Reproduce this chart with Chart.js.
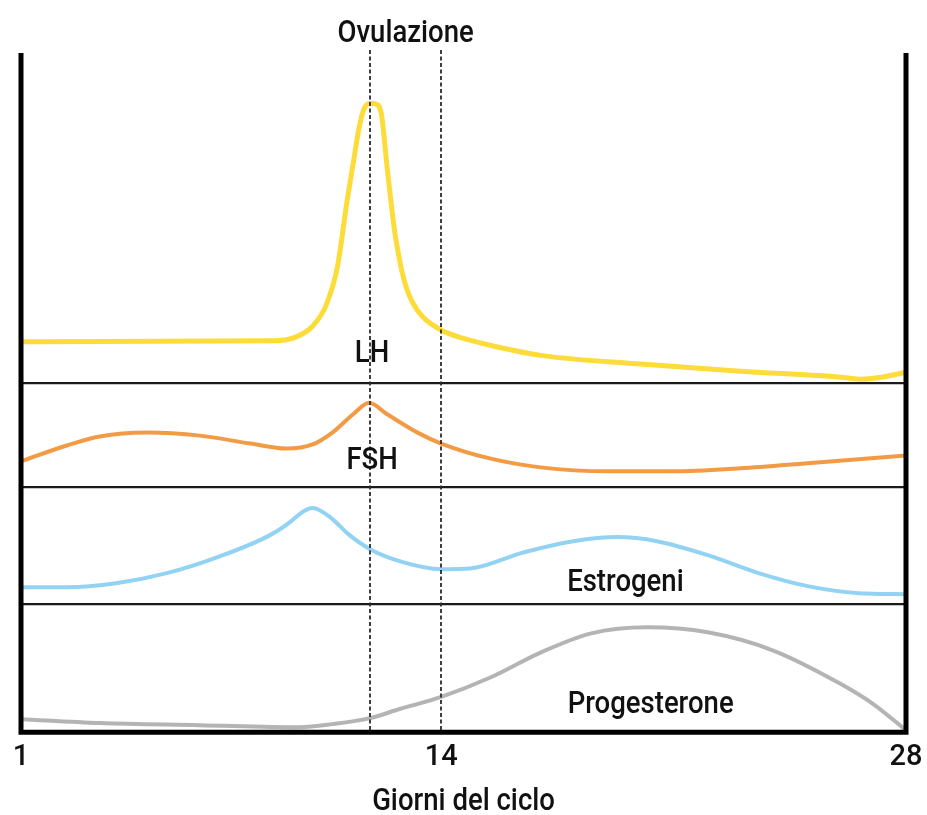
<!DOCTYPE html>
<html>
<head>
<meta charset="utf-8">
<script src="https://cdn.jsdelivr.net/npm/chart.js@4.4.0/dist/chart.umd.min.js"></script>
<style>
  html, body { margin: 0; padding: 0; background: #fff; }
</style>
</head>
<body>
<canvas id="myChart" width="927" height="815"></canvas>
<script>
// giorni del ciclo + livello relativo (0-100) di ogni ormone nel suo pannello
const lhDays   = [1, 8.7, 9.4, 9.9, 10.3, 10.65, 10.95, 11.15, 11.3, 11.45, 11.65, 11.85, 12.0, 12.17, 12.4, 12.5, 12.62, 12.78, 12.96, 13.26, 13.81, 14.48, 15.25, 16.85, 19.9, 22.95, 26.0, 26.6, 27.25, 28];
const lhLevels = [12.5, 12.8, 14.0, 17.3, 23.4, 35.0, 55.3, 67.5, 76.6, 82.7, 84.8, 84.5, 81.2, 65.3, 46.0, 40.0, 33.9, 28.2, 24.2, 20.0, 16.1, 13.6, 11.6, 8.4, 5.8, 3.6, 1.8, 1.2, 1.8, 3.3];

const fshDays   = [1, 2.4, 3.4, 4.85, 6.45, 8.0, 9.1, 9.9, 10.5, 11.15, 11.62, 12.15, 13.1, 13.82, 15.3, 16.85, 18.9, 20.9, 22.95, 25.0, 26.55, 28];
const fshLevels = [24.8, 40.0, 48.6, 52.4, 49.5, 41.9, 37.1, 41.0, 52.4, 70.5, 81.0, 70.5, 52.4, 41.9, 27.6, 19.0, 15.2, 15.2, 18.1, 22.9, 26.7, 30.5];

const estDays   = [1, 2.4, 3.9, 5.45, 7.0, 8.6, 9.21, 9.5, 9.7, 9.88, 10.06, 10.21, 10.43, 10.64, 10.95, 11.65, 12.65, 13.81, 14.7, 16.35, 17.85, 19.2, 20.4, 21.95, 23.5, 25.0, 26.55, 28];
const estLevels = [14.5, 14.5, 17.9, 26.5, 40.2, 59.0, 70.1, 77.0, 80.6, 82.1, 81.0, 78.6, 74.4, 69.2, 60.7, 47.0, 35.9, 29.9, 30.5, 44.4, 53.8, 57.3, 53.8, 41.9, 26.5, 15.4, 9.4, 8.5];

const proDays   = [1, 3.4, 6.45, 9.5, 10.5, 11.65, 12.55, 13.82, 15.3, 16.85, 18.4, 20.1, 21.95, 23.95, 26.0, 27.0, 28];
const proLevels = [10.2, 7.1, 5.5, 3.9, 6.3, 11.0, 18.1, 27.6, 42.5, 62.2, 77.2, 81.9, 78.0, 63.8, 37.8, 22.0, 1.5];

const tickDays = [1, 13.82, 28];
const tickLabels = ['1', '14', '28'];
const dashedDays = [11.65, 13.82];
const axisTitle = 'Giorni del ciclo';

const panelLabels = ['LH', 'FSH', 'Estrogeni', 'Progesterone'];
const labelDays   = [11.71, 11.71, 19.44, 20.21];
const labelLevels = [6.5, 17.1, 11.1, 15.0];
const labelAxes   = ['yL', 'yF', 'yE', 'yP'];

const family = "'Liberation Sans Narrow', Roboto, sans-serif";
Chart.defaults.font.family = family;
Chart.defaults.color = '#111';

function pts(days, levels) {
  return days.map((d, i) => ({ x: d, y: levels[i] }));
}

function line(data, color, width, axis) {
  return {
    data: data,
    yAxisID: axis,
    borderColor: color,
    borderWidth: width,
    pointRadius: 0,
    fill: false,
    cubicInterpolationMode: 'monotone'
  };
}

function panelAxis(weight, order) {
  return {
    type: 'linear',
    position: 'left',
    stack: 'ormoni',
    stackWeight: weight,
    weight: order,
    min: 0,
    max: 100,
    ticks: { display: false },
    grid: { display: false, drawTicks: false },
    border: { display: false }
  };
}

// testo "stretto" per imitare il carattere condensato dell'originale
function narrowText(ctx, t, x, y) {
  ctx.save();
  ctx.translate(x, y);
  ctx.scale(0.86, 1);
  ctx.fillText(t, 0, 0);
  ctx.restore();
}

const hormoneFrame = {
  id: 'hormoneFrame',
  afterDatasetsDraw(chart) {
    const { ctx, chartArea: a, scales } = chart;
    const x = scales.x;
    ctx.save();

    // separatori tra i pannelli
    ctx.strokeStyle = '#1a1a1a';
    ctx.lineWidth = 2.2;
    ['yF', 'yE', 'yP'].forEach(id => {
      const top = scales[id].top;
      ctx.beginPath();
      ctx.moveTo(a.left, top);
      ctx.lineTo(a.right, top);
      ctx.stroke();
    });

    // linee tratteggiate
    ctx.setLineDash([4, 2.5]);
    ctx.lineWidth = 1.8;
    ctx.strokeStyle = '#2a2a2a';
    dashedDays.forEach(d => {
      const px = Math.round(x.getPixelForValue(d));
      ctx.beginPath();
      ctx.moveTo(px, a.top - 3);
      ctx.lineTo(px, a.bottom);
      ctx.stroke();
    });
    ctx.setLineDash([]);

    // cornice
    ctx.lineWidth = 5;
    ctx.strokeStyle = '#000';
    ctx.beginPath();
    ctx.moveTo(a.left, a.top);
    ctx.lineTo(a.left, a.bottom);
    ctx.lineTo(a.right, a.bottom);
    ctx.lineTo(a.right, a.top);
    ctx.stroke();

    // testi
    ctx.fillStyle = '#111';
    ctx.font = '500 32px ' + family;
    ctx.textAlign = 'center';
    ctx.textBaseline = 'alphabetic';
    panelLabels.forEach((t, i) => {
      narrowText(ctx, t, x.getPixelForValue(labelDays[i]), scales[labelAxes[i]].getPixelForValue(labelLevels[i]));
    });
    const mid = (x.getPixelForValue(dashedDays[0]) + x.getPixelForValue(dashedDays[1])) / 2;
    narrowText(ctx, 'Ovulazione', mid, a.top - 11);
    narrowText(ctx, axisTitle, (a.left + a.right) / 2, chart.height - 5);
    ctx.restore();
  }
};

new Chart(document.getElementById('myChart'), {
  type: 'line',
  data: {
    datasets: [
      line(pts(lhDays, lhLevels), '#FDDC3A', 5, 'yL'),
      line(pts(fshDays, fshLevels), '#F39A45', 4, 'yF'),
      line(pts(estDays, estLevels), '#92D3F3', 4, 'yE'),
      line(pts(proDays, proLevels), '#B4B4B4', 4, 'yP')
    ]
  },
  options: {
    responsive: false,
    animation: false,
    layout: { padding: { left: 21, right: 21, top: 53, bottom: 32 } },
    plugins: { legend: { display: false }, tooltip: { enabled: false } },
    scales: {
      x: {
        type: 'linear',
        min: 1,
        max: 28,
        grid: { display: false, drawTicks: false },
        border: { display: false },
        afterBuildTicks: (scale) => { scale.ticks = tickDays.map(v => ({ value: v })); },
        afterFit: (scale) => { scale.paddingLeft = 0; scale.paddingRight = 0; },
        ticks: {
          autoSkip: false,
          maxRotation: 0,
          padding: 8,
          font: { size: 29, weight: '500' },
          callback: (v, i) => tickLabels[i]
        }
      },
      yP: panelAxis(128, 1),
      yE: panelAxis(117, 2),
      yF: panelAxis(104, 3),
      yL: panelAxis(330, 4)
    }
  },
  plugins: [hormoneFrame]
});
</script>
</body>
</html>
